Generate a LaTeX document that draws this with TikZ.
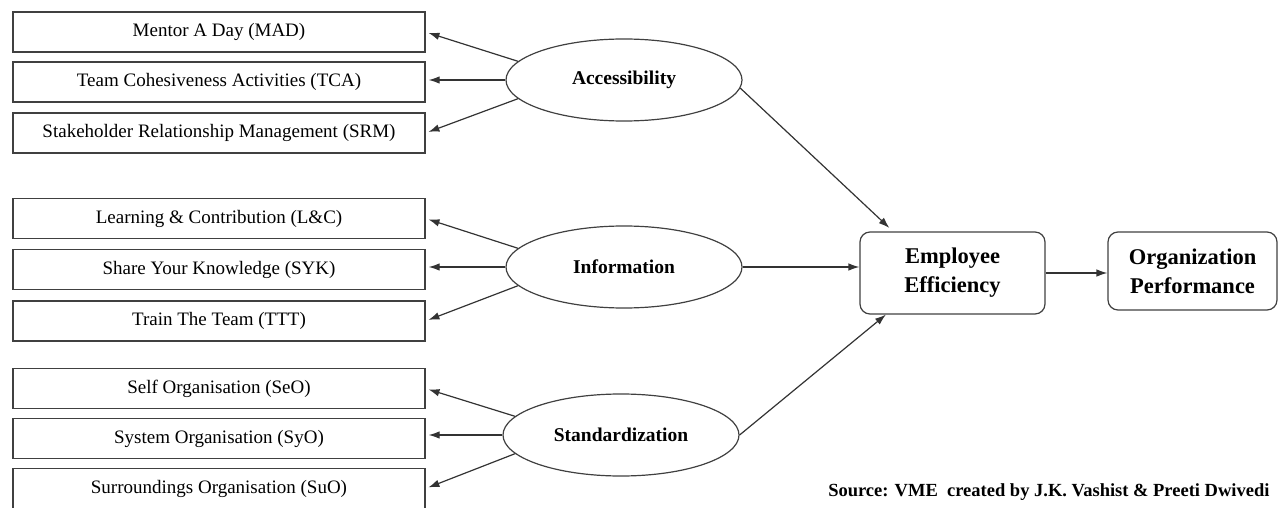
\documentclass[tikz,border=0pt]{standalone}
\usepackage{fontspec}
\setmainfont{Liberation Serif}
\usetikzlibrary{shapes.geometric,arrows.meta}
\begin{document}
\begin{tikzpicture}[x=1pt,y=-1pt,
    item/.style={draw=black!75,line width=1.2pt,minimum width=412pt,minimum height=40pt,inner sep=0pt,font=\fontsize{19}{22}\selectfont},
    factor/.style={ellipse,draw=black!75,line width=1.2pt,minimum width=236pt,minimum height=82pt,inner sep=0pt,font=\bfseries\fontsize{19.5}{22}\selectfont},
    result/.style={draw=black!75,line width=1.2pt,rounded corners=10pt,align=center,inner sep=0pt,font=\bfseries\fontsize{22.5}{29}\selectfont},
    link/.style={-{Latex[length=11pt,width=7.5pt]},draw=black!80,line width=1.2pt}]
  \useasboundingbox (0,0) rectangle (1278,508);
    % measures on the left
    \foreach \n/\y/\t in {mad/32/Mentor A Day (MAD),
                          tca/82/Team Cohesiveness Activities (TCA),
                          srm/133/Stakeholder Relationship Management (SRM),
                          lc/218.5/Learning \& Contribution (L\&C),
                          syk/269.5/Share Your Knowledge (SYK),
                          ttt/321/Train The Team (TTT),
                          seo/388.5/Self Organisation (SeO),
                          syo/438.5/System Organisation (SyO),
                          suo/488.5/Surroundings Organisation (SuO)}{
        \node[item] at (219,\y) (\n) {\t};
    }
    % the three factors
        \node[factor] at (624,80) (acc) {Accessibility};
        \node[factor] at (624,267) (inf) {Information};
        \node[factor] at (621,435) (std) {Standardization};
    \foreach \f/\a/\b/\c in {acc/mad/tca/srm,inf/lc/syk/ttt,std/seo/syo/suo}{
        \draw[link,shorten >=3pt] (\f.170)--(\a.east);
        \draw[link,shorten >=3pt] (\f.west)--(\f.west -| \b.east);
        \draw[link,shorten >=3pt] (\f.190)--(\c.east);
    }
        \node[result,minimum width=185pt,minimum height=82pt] at (952.5,273) (ee) {Employee\\Efficiency};
        \node[result,minimum width=169pt,minimum height=78pt] at (1192.5,271) (op) {Organization\\Performance};
        \draw[link,shorten >=5pt] (acc.-4)--(ee.145);
        \draw[link] (inf.east)--(inf.east -| ee.west);
        \draw[link] (std.east)--(ee.212);
        \draw[link] (ee.east)--(ee.east -| op.west);
        \node[anchor=east,font=\bfseries\fontsize{18.5}{22}\selectfont] at (1273,492) (src) {Source: VME\ \ created by J.K. Vashist \& Preeti Dwivedi};
\end{tikzpicture}
\end{document}
